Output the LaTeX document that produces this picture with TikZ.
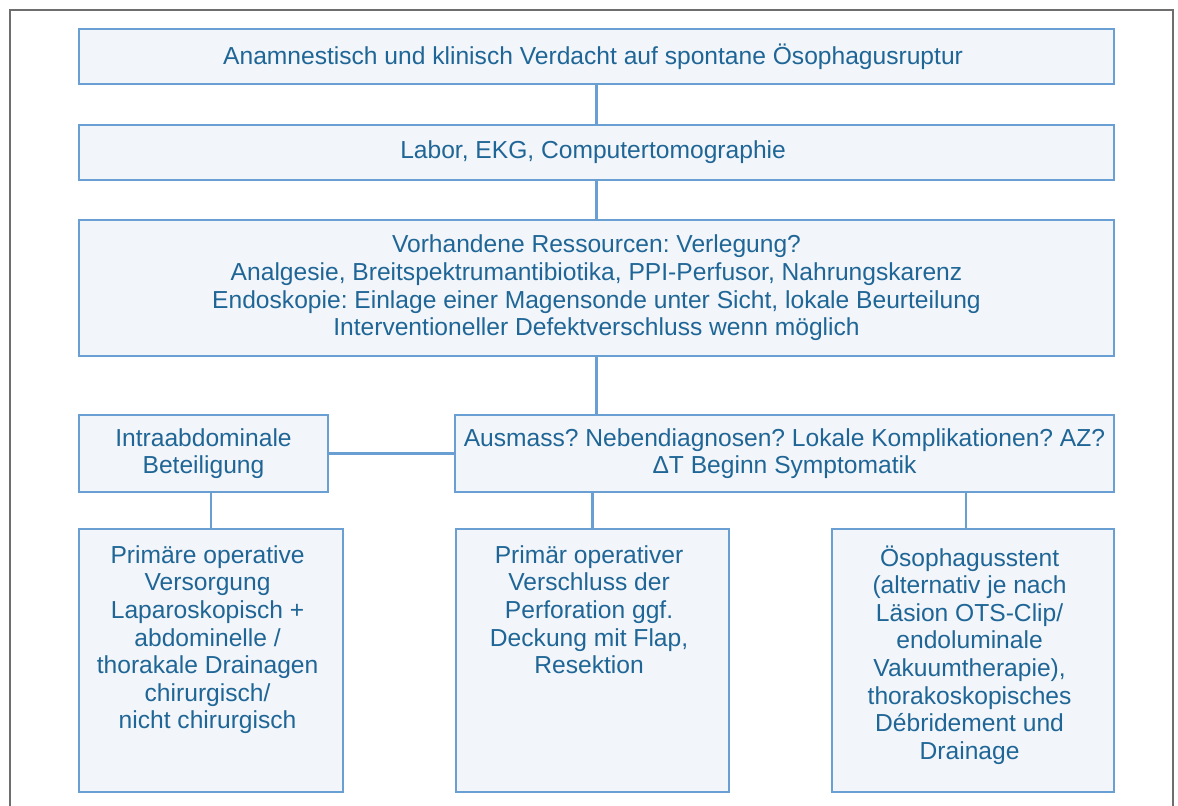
\documentclass[tikz,border=0pt]{standalone}
\usepackage{fontspec}
\setmainfont{Liberation Sans}
\usepackage{tikz}
\usetikzlibrary{positioning}
\definecolor{boxline}{HTML}{6A9FD4}
\definecolor{boxfill}{HTML}{F2F5FA}
\definecolor{boxtext}{HTML}{1F6696}
\definecolor{framegray}{HTML}{6E6E6E}
\frenchspacing

\begin{document}
\begin{tikzpicture}[
	x=0.5pt, y=-0.5pt,
	box/.style={
		draw=boxline,
		fill=boxfill,
		line width=1pt,
		rectangle,
		align=center,
		text=boxtext,
		font=\fontsize{12.3}{13.8}\selectfont,
		inner sep=0pt
	},
	line/.style={
		draw=boxline,
		line width=1.3pt
	}
	]
	
	\useasboundingbox (0,0) rectangle (1178,805);
	\draw[framegray, line width=0.8pt] (10,806) -- (10,10) -- (1173,10) -- (1173,806);
	
	\node[box, minimum width=517.5pt, minimum height=27.5pt] (verdacht) at (596.5,56.5) {
		Anamnestisch und klinisch Verdacht auf spontane Ösophagusruptur
	};
	
	\node[box, minimum width=517.5pt, minimum height=27.5pt] (labor) at (596.5,152.5) {
		Labor, EKG, Computertomographie
	};
	
	\node[box, minimum width=517.5pt, minimum height=68pt] (ressourcen) at (596.5,288) {
		Vorhandene Ressourcen: Verlegung?\\
		Analgesie, Breitspektrumantibiotika, PPI-Perfusor, Nahrungskarenz\\
		Endoskopie: Einlage einer Magensonde unter Sicht, lokale Beurteilung\\
		Interventioneller Defektverschluss wenn möglich
	};
	
	\node[box, minimum width=124.5pt, minimum height=38.5pt] (intra) at (203.5,453.5) {
		Intraabdominale\\
		Beteiligung
	};
	
	\node[box, minimum width=329.5pt, minimum height=38.5pt] (ausmass) at (784.5,453.5) {
		Ausmass? Nebendiagnosen? Lokale Komplikationen? AZ?\\
		ΔT Beginn Symptomatik
	};
	
	\node[box, minimum width=132pt, minimum height=131.5pt] (operativ) at (211,660.5) {
		\parbox[c][123pt][t]{128pt}{\centering\vspace{4pt}
		Primäre operative\\
		Versorgung\\
		Laparoskopisch +\\
		abdominelle /\\
		thorakale Drainagen\\
		chirurgisch/\\
		nicht chirurgisch}
	};
	
	\node[box, minimum width=136.5pt, minimum height=131.5pt] (verschluss) at (592.5,660.5) {
		\parbox[c][123pt][t]{132pt}{\centering\vspace{4pt}
		Primär operativer\\
		Verschluss der\\
		Perforation ggf.\\
		Deckung mit Flap,\\
		Resektion}
	};
	
	\node[box, minimum width=141pt, minimum height=131.5pt] (stent) at (973,660.5) {
		\parbox[c][123pt][t]{137pt}{\centering\vspace{4pt}
		Ösophagusstent\\
		(alternativ je nach\\
		Läsion OTS-Clip/\\
		endoluminale\\
		Vakuumtherapie),\\
		thorakoskopisches\\
		Débridement und\\
		Drainage}
	};
	
	\draw[line] (verdacht) -- (labor);
	\draw[line] (labor) -- (ressourcen);
	\draw[line] (ressourcen.south) -- (ressourcen.south |- ausmass.north);
	\draw[line] (intra) -- (ausmass);
	\draw[line] (intra.south -| operativ.north) -- (operativ.north);
	\draw[line] (ausmass.south -| verschluss.north) -- (verschluss.north);
	\draw[line] ([xshift=-3.5pt]stent.north) -- ([xshift=-3.5pt]stent.north |- ausmass.south);
	
\end{tikzpicture}
\end{document}
